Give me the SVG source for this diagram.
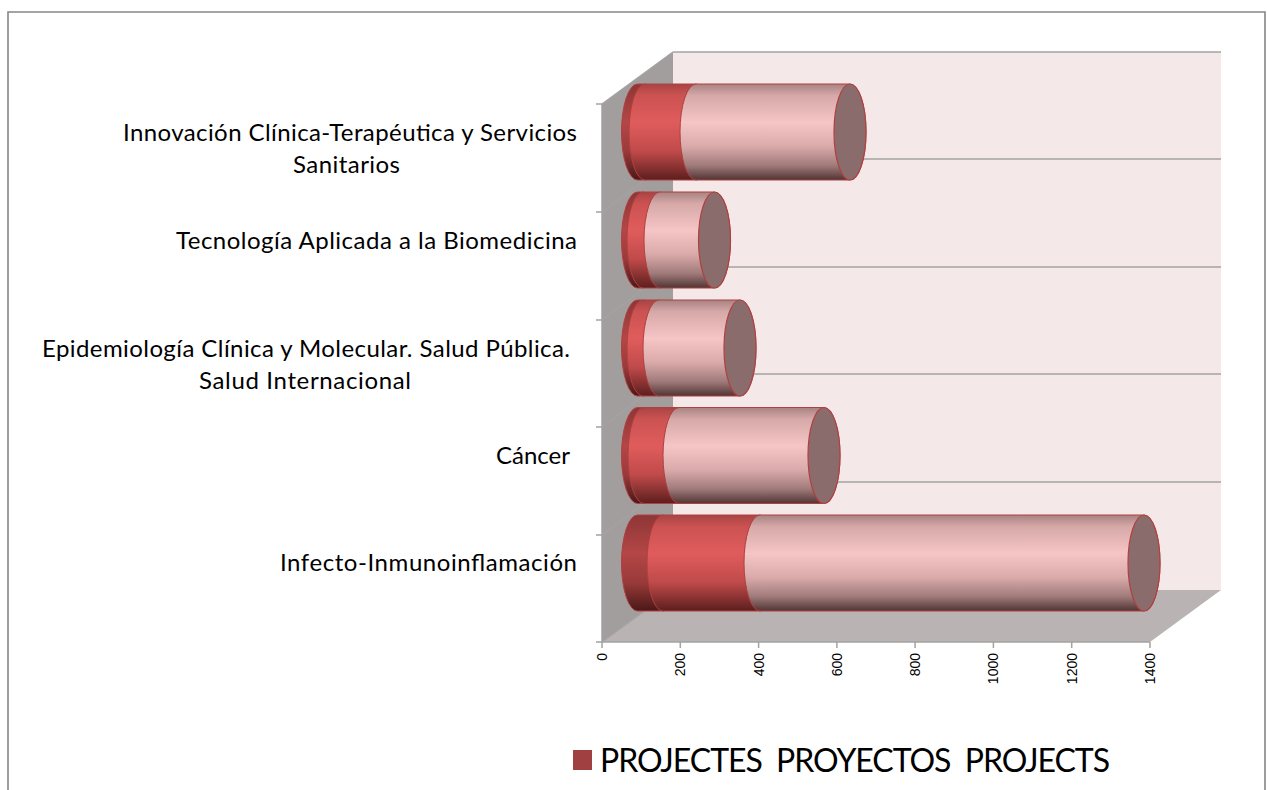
<svg xmlns="http://www.w3.org/2000/svg" width="1267" height="790" viewBox="0 0 1267 790">
<defs>
<linearGradient id="gPink" x1="0" y1="0" x2="0" y2="1">
<stop offset="0" stop-color="#A88282"/>
<stop offset="0.12" stop-color="#D6A8A8"/>
<stop offset="0.4" stop-color="#F6C5C5"/>
<stop offset="0.65" stop-color="#DAAAAA"/>
<stop offset="0.85" stop-color="#A07A7A"/>
<stop offset="1" stop-color="#503434"/>
</linearGradient>
<linearGradient id="gRed" x1="0" y1="0" x2="0" y2="1">
<stop offset="0" stop-color="#A84444"/>
<stop offset="0.12" stop-color="#CC5252"/>
<stop offset="0.4" stop-color="#E05C5C"/>
<stop offset="0.7" stop-color="#C04A4A"/>
<stop offset="1" stop-color="#5C1E1E"/>
</linearGradient>
<linearGradient id="gDark" x1="0" y1="0" x2="0" y2="1">
<stop offset="0" stop-color="#8E3636"/>
<stop offset="0.4" stop-color="#B44646"/>
<stop offset="0.7" stop-color="#9A3A3A"/>
<stop offset="1" stop-color="#4A1818"/>
</linearGradient>
<style>
.grid{stroke:#A3A3A3;stroke-width:1.5;fill:none}
.seg{stroke:#B04040;stroke-width:1}
.pink{fill:url(#gPink)}
.red{fill:url(#gRed)}
.dark{fill:url(#gDark)}
.cap{fill:#8B6C6C;stroke:#B04040;stroke-width:1.2}
.lbl{font-family:Lato,"Liberation Sans",sans-serif;font-size:24px;fill:#000}
.tick{font-family:"Liberation Sans",Arial,sans-serif;font-size:14px;fill:#000}
.leg{font-family:Lato,"Liberation Sans",sans-serif;font-size:32px;fill:#000;white-space:pre}
</style>
</defs>
<rect width="1267" height="790" fill="#FFFFFF"/>
<path d="M8,790 V12 H1265 V790" fill="none" stroke="#868686" stroke-width="1.6"/>

<g id="plot-area">
<polygon points="673,52 1221,52 1221,590 673,590" fill="#F4E8E8"/>
<polygon points="602,104 673,52 673,590 602,642" fill="#A29E9E"/>
<polygon points="602,642 1150,642 1221,590 673,590" fill="#BAB3B3"/>
<line class="grid" x1="673" y1="52" x2="1221" y2="52"/>
<line class="grid" x1="602" y1="104" x2="673" y2="52"/>
<line class="grid" x1="673" y1="159" x2="1221" y2="159"/>
<line class="grid" x1="602" y1="212" x2="673" y2="159"/>
<line class="grid" x1="673" y1="267" x2="1221" y2="267"/>
<line class="grid" x1="602" y1="320" x2="673" y2="267"/>
<line class="grid" x1="673" y1="374" x2="1221" y2="374"/>
<line class="grid" x1="602" y1="427" x2="673" y2="374"/>
<line class="grid" x1="673" y1="482" x2="1221" y2="482"/>
<line class="grid" x1="602" y1="535" x2="673" y2="482"/>
<line class="grid" x1="602" y1="642" x2="673" y2="590"/>
</g>

<g id="axes">
<path class="grid" d="M602,104 V642 M596,104 H602 M596,212 H602 M596,320 H602 M596,427 H602 M596,535 H602 M596,642 H1150"/>
<path class="grid" d="M602,642 V648 M680.3,642 V648 M758.6,642 V648 M836.9,642 V648 M915.1,642 V648 M993.4,642 V648 M1071.7,642 V648 M1150,642 V648"/>
<text class="tick" text-anchor="end" transform="translate(607,653) rotate(-90)">0</text>
<text class="tick" text-anchor="end" transform="translate(685.3,653) rotate(-90)">200</text>
<text class="tick" text-anchor="end" transform="translate(763.6,653) rotate(-90)">400</text>
<text class="tick" text-anchor="end" transform="translate(841.9,653) rotate(-90)">600</text>
<text class="tick" text-anchor="end" transform="translate(920.1,653) rotate(-90)">800</text>
<text class="tick" text-anchor="end" transform="translate(998.4,653) rotate(-90)">1000</text>
<text class="tick" text-anchor="end" transform="translate(1076.7,653) rotate(-90)">1200</text>
<text class="tick" text-anchor="end" transform="translate(1155,653) rotate(-90)">1400</text>
</g>

<g id="bar-innovacion">
<path class="seg dark" d="M637.5,84 L645,84 A16,48 0 0 1 645,180 L637.5,180 A16,48 0 0 1 637.5,84 Z"/>
<path class="seg red" d="M645,84 L696,84 A16,48 0 0 1 696,180 L645,180 A16,48 0 0 1 645,84 Z"/>
<path class="seg pink" d="M696,84 L850,84 A16,48 0 0 1 850,180 L696,180 A16,48 0 0 1 696,84 Z"/>
<ellipse class="cap" cx="850" cy="132" rx="16" ry="48"/>
<text class="lbl" x="123" y="141" textLength="454">Innovación Clínica-Terapéutica y Servicios</text>
<text class="lbl" x="293" y="173" textLength="107">Sanitarios</text>
</g>

<g id="bar-tecnologia">
<path class="seg dark" d="M637.5,192 L643,192 A16,48 0 0 1 643,288 L637.5,288 A16,48 0 0 1 637.5,192 Z"/>
<path class="seg red" d="M643,192 L660,192 A16,48 0 0 1 660,288 L643,288 A16,48 0 0 1 643,192 Z"/>
<path class="seg pink" d="M660,192 L714.5,192 A16,48 0 0 1 714.5,288 L660,288 A16,48 0 0 1 660,192 Z"/>
<ellipse class="cap" cx="714.5" cy="240" rx="16" ry="48"/>
<text class="lbl" x="176" y="249" textLength="401">Tecnología Aplicada a la Biomedicina</text>
</g>

<g id="bar-epidemiologia">
<path class="seg dark" d="M637.5,300 L643,300 A16,48 0 0 1 643,396 L637.5,396 A16,48 0 0 1 637.5,300 Z"/>
<path class="seg red" d="M643,300 L659,300 A16,48 0 0 1 659,396 L643,396 A16,48 0 0 1 643,300 Z"/>
<path class="seg pink" d="M659,300 L740,300 A16,48 0 0 1 740,396 L659,396 A16,48 0 0 1 659,300 Z"/>
<ellipse class="cap" cx="740" cy="348" rx="16" ry="48"/>
<text class="lbl" x="42" y="357" textLength="528">Epidemiología Clínica y Molecular. Salud Pública.</text>
<text class="lbl" x="199" y="389" textLength="212">Salud Internacional</text>
</g>

<g id="bar-cancer">
<path class="seg dark" d="M637.5,407.5 L644,407.5 A16,48 0 0 1 644,503.5 L637.5,503.5 A16,48 0 0 1 637.5,407.5 Z"/>
<path class="seg red" d="M644,407.5 L679,407.5 A16,48 0 0 1 679,503.5 L644,503.5 A16,48 0 0 1 644,407.5 Z"/>
<path class="seg pink" d="M679,407.5 L824,407.5 A16,48 0 0 1 824,503.5 L679,503.5 A16,48 0 0 1 679,407.5 Z"/>
<ellipse class="cap" cx="824" cy="455.5" rx="16" ry="48"/>
<text class="lbl" x="496" y="464" textLength="74">Cáncer</text>
</g>

<g id="bar-infecto">
<path class="seg dark" d="M637.5,515 L663,515 A16,48 0 0 1 663,611 L637.5,611 A16,48 0 0 1 637.5,515 Z"/>
<path class="seg red" d="M663,515 L760,515 A16,48 0 0 1 760,611 L663,611 A16,48 0 0 1 663,515 Z"/>
<path class="seg pink" d="M760,515 L1144,515 A16,48 0 0 1 1144,611 L760,611 A16,48 0 0 1 760,515 Z"/>
<ellipse class="cap" cx="1144" cy="563" rx="16" ry="48"/>
<text class="lbl" x="280" y="571" textLength="297">Infecto-Inmunoinflamación</text>
</g>

<g id="legend">
<rect x="573" y="750" width="19" height="20" fill="#A04040"/>
<text class="leg" x="600" y="772" textLength="510">PROJECTES  PROYECTOS  PROJECTS</text>
</g>
</svg>
